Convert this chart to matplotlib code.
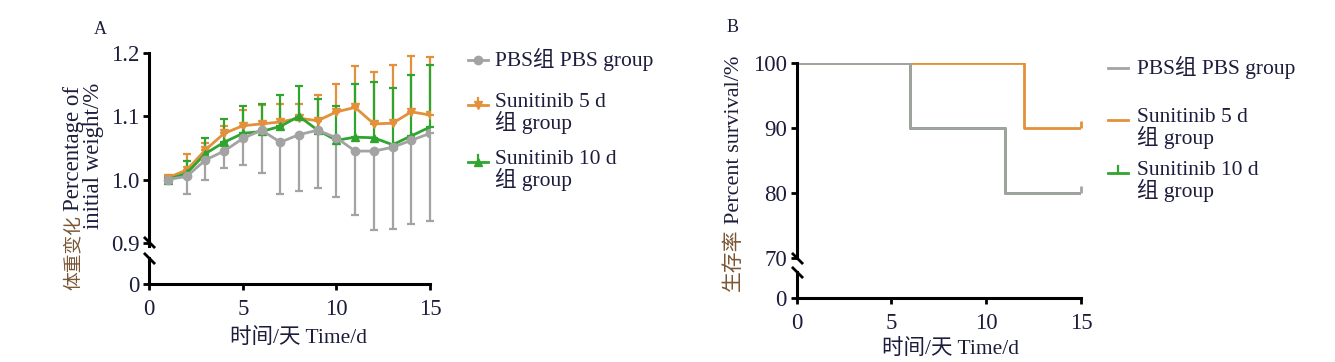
import matplotlib
matplotlib.use("Agg")
import matplotlib.pyplot as plt
from matplotlib.lines import Line2D

W, H = 1335, 362

# panel A: relative body weight
days = list(range(1, 16))
pbs_mean = [1.000, 1.005, 1.031, 1.045, 1.065, 1.078, 1.059, 1.071, 1.078, 1.066, 1.045, 1.045, 1.051, 1.062, 1.073]
pbs_err = [0.002, 0.028, 0.031, 0.027, 0.042, 0.068, 0.082, 0.089, 0.092, 0.093, 0.101, 0.124, 0.129, 0.132, 0.138]
sun5_mean = [1.003, 1.015, 1.047, 1.073, 1.085, 1.088, 1.091, 1.097, 1.093, 1.107, 1.114, 1.088, 1.089, 1.107, 1.102]
sun5_err = [0.002, 0.025, 0.010, 0.011, 0.025, 0.030, 0.028, 0.023, 0.041, 0.044, 0.066, 0.082, 0.092, 0.089, 0.092]
sun10_mean = [1.000, 1.010, 1.041, 1.059, 1.073, 1.076, 1.084, 1.100, 1.078, 1.062, 1.067, 1.066, 1.055, 1.069, 1.083]
sun10_err = [0.002, 0.019, 0.024, 0.036, 0.043, 0.043, 0.049, 0.048, 0.050, 0.055, 0.084, 0.088, 0.090, 0.096, 0.098]

# panel B: survival (step, post); the 10 d curve is hidden under the PBS one
pbs_t = [0, 6, 11, 15]
pbs_surv = [100, 90, 80, 80]
sun5_t = [0, 12, 15]
sun5_surv = [100, 90, 90]
sun10_t = [0, 6, 11, 15]
sun10_surv = [100, 90, 80, 80]

labels = ["PBS组 PBS group", "Sunitinib 5 d\n组 group", "Sunitinib 10 d\n组 group"]
xticks = [0, 5, 10, 15]

GRAY = "#a3a3a3"
ORANGE = "#e2913a"
GREEN = "#2fa52f"
TXT = "#1c1c3c"
CN = "#7a5634"
FONT = ["Liberation Serif", "Noto Sans CJK SC", "DejaVu Sans"]

plt.rcParams["font.family"] = FONT
plt.rcParams["text.color"] = TXT
plt.rcParams["xtick.color"] = "black"
plt.rcParams["ytick.color"] = "black"
plt.rcParams["xtick.labelcolor"] = TXT
plt.rcParams["ytick.labelcolor"] = TXT


def box(x0, y_top, x1, y_bot):
    return [x0 / W, 1 - y_bot / H, (x1 - x0) / W, (y_bot - y_top) / H]


def style(ax, left_only=False):
    for s in ["top", "right"]:
        ax.spines[s].set_visible(False)
    ax.spines["left"].set_linewidth(2.2)
    ax.spines["bottom"].set_linewidth(2.2)
    if left_only:
        ax.spines["bottom"].set_visible(False)
        ax.tick_params(axis="x", which="both", bottom=False, labelbottom=False)
    ax.tick_params(direction="out", length=4, width=2, labelsize=16.5, pad=3)
    ax.tick_params(axis="x", pad=7)
    ax.patch.set_alpha(0)


def brk(ax, y):
    ax.plot([0], [y], transform=ax.transAxes, marker=[(-1, 1), (1, -1)],
            markersize=8, mew=2, color="k", clip_on=False, linestyle="none")


fig = plt.figure(figsize=(W / 100, H / 100), dpi=100)

# ---- panel A
axA = fig.add_axes(box(149.3, 53, 430, 246))
axA0 = fig.add_axes(box(149.3, 258, 430, 284))
style(axA, left_only=True)
style(axA0)

ekw = dict(linewidth=2, elinewidth=1.6, capsize=3, capthick=1.6, markersize=6)
series = [
    (sun5_mean, [[0] * 15, sun5_err], ORANGE, "v"),
    (sun10_mean, [[0] * 15, sun10_err], GREEN, "^"),
    (pbs_mean, [pbs_err, [0] * 15], GRAY, "o"),
]
for mean, err, col, mk in series:
    cont = axA.errorbar(days, mean, yerr=err, color=col, marker=mk, **ekw)
    for art in cont.lines[1] + cont.lines[2]:
        art.set_clip_on(False)
    for art in cont.lines[2]:
        art.set_clip_on(False)

axA.set_xlim(0, 15)
axA.set_ylim(0.895, 1.2)
axA.set_yticks([0.9, 1.0, 1.1, 1.2])
axA.set_yticklabels(["0.9", "1.0", "1.1", "1.2"])
axA0.set_xlim(0, 15)
axA0.set_ylim(0, 1)
axA0.set_yticks([0])
axA0.set_xticks(xticks)
brk(axA, 0.02)
brk(axA0, 1.0)

# ---- panel B
axB = fig.add_axes(box(796.7, 63.3, 1081, 258))
axB0 = fig.add_axes(box(796.7, 272, 1081, 297.5))
style(axB, left_only=True)
style(axB0)

skw = dict(where="post", linewidth=2)
axB.step(sun10_t, sun10_surv, color=GREEN, **skw)
axB.step(sun5_t, sun5_surv, color=ORANGE, **skw)
axB.step(pbs_t, pbs_surv, color=GRAY, **skw)
axB.plot(sun5_t[-1:], sun5_surv[-1:], marker=2, markersize=5, mew=2, color=ORANGE, linestyle="none", clip_on=False)
axB.plot(pbs_t[-1:], pbs_surv[-1:], marker=2, markersize=5, mew=2, color=GRAY, linestyle="none", clip_on=False)

axB.set_xlim(0, 15)
axB.set_ylim(70, 100)
axB.set_yticks([70, 80, 90, 100])
axB0.set_xlim(0, 15)
axB0.set_ylim(0, 1)
axB0.set_yticks([0])
axB0.set_xticks(xticks)
brk(axB, 0.0)
brk(axB0, 1.0)

# ---- panel letters and x labels
fig.text(100 / W, 1 - 30 / H, "A", fontsize=13, ha="center", va="center")
fig.text(733 / W, 1 - 27 / H, "B", fontsize=13, ha="center", va="center")
fig.text(298 / W, 1 - 338 / H, "时间/天 Time/d", fontsize=15.5, ha="center", va="center")
fig.text(951 / W, 1 - 349 / H, "时间/天 Time/d", fontsize=15.5, ha="center", va="center")


# ---- y labels (Chinese part coloured)
def vlabel(x, y_bottom, cn, en, size_cn, size_en):
    t1 = fig.text(x / W, 1 - y_bottom / H, cn, rotation=90, fontsize=size_cn, color=CN,
                  ha="center", va="bottom")
    fig.canvas.draw()
    ext = t1.get_window_extent()
    fig.text(x / W, (ext.y1 + 4) / H, en, rotation=90, fontsize=size_en, color=TXT,
             ha="center", va="bottom")


vlabel(74, 290, "体重变化", "Percentage of", 13.5, 16.5)
fig.text(94 / W, 1 - 156 / H, "initial weight/%", rotation=90, fontsize=16.5,
         ha="center", va="center")
vlabel(734, 291, "生存率", "Percent survival/%", 15, 16)


# ---- legends
def legend_entry(x0, x1, xt, y, color, marker, label, ebar=False):
    xs = [x0 / W, (x0 + x1) / 2 / W, x1 / W]
    ys = [1 - y / H] * 3
    fig.add_artist(Line2D(xs, ys, transform=fig.transFigure, color=color, linewidth=2,
                          marker=marker, markevery=[1], markersize=6))
    if ebar:
        xm = (x0 + x1) / 2 / W
        fig.add_artist(Line2D([xm, xm], [1 - y / H, 1 - (y - 7) / H], transform=fig.transFigure,
                              color=color, linewidth=1.6))
    fig.text(xt / W, 1 - (y - 12) / H, label, fontsize=15.5, ha="left", va="top",
             linespacing=0.95)


legend_entry(468, 488, 495, 60, GRAY, "o", labels[0])
legend_entry(468, 488, 495, 105, ORANGE, "v", labels[1], ebar=True)
legend_entry(468, 488, 495, 162, GREEN, "^", labels[2], ebar=True)

legend_entry(1108, 1128, 1137, 68, GRAY, None, labels[0])
legend_entry(1108, 1128, 1137, 120, ORANGE, None, labels[1])
legend_entry(1108, 1128, 1137, 173, GREEN, None, labels[2], ebar=True)

fig.savefig("out.png", dpi=100)
